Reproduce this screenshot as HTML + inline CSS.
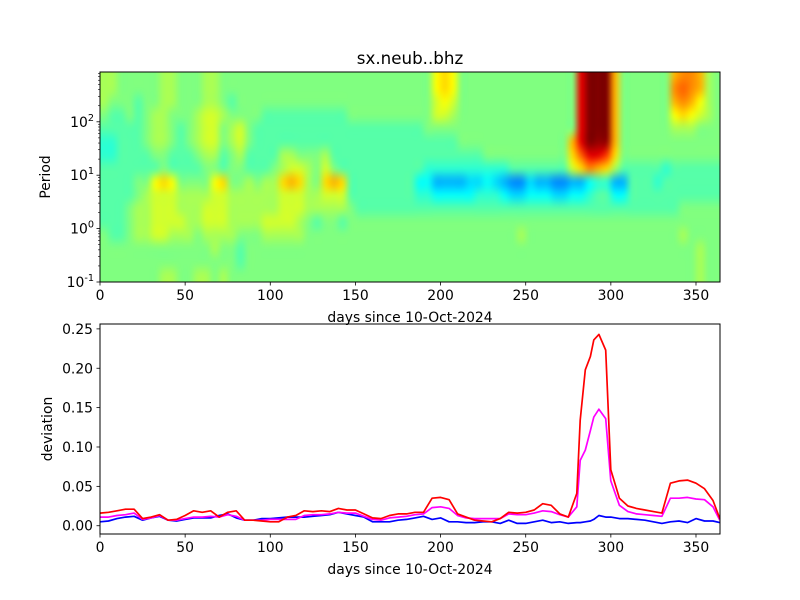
<!DOCTYPE html>
<html><head><meta charset="utf-8">
<style>
html,body{margin:0;padding:0;background:#fff;}
#wrap{position:relative;width:800px;height:600px;overflow:hidden;font-family:"DejaVu Sans","Liberation Sans",sans-serif;}
#hm{position:absolute;left:100px;top:72px;}
#svg{position:absolute;left:0;top:0;}
</style></head>
<body>
<div id="wrap">
<canvas id="hm" width="620" height="210"></canvas>
<svg id="svg" width="800" height="600"></svg>
</div>
<script>
// ---- heatmap data: rows from log10(period)=3 (top) down to -1, 0.25 decade each; columns 5 days each; letter M = 0.5 on jet, step 0.04 per letter
const hmRow0  = "NNMMMMMNNMMMNNMMMMMMMMMMMMMMMMMMMMMMMMMPQPMMMMMMMMMMMMMMWZZZRMMMMMMRSSRNM";
const hmRow1  = "NNMMMMMNNMMMNNMMMMMMMMMMMMMMMMMMMMMMMMMPQPMMMMMMMMMMMMMMWZZZRMMMMMMSTSRNM";
const hmRow2  = "NMMMLMMNNMMMNNMLMMMMMMMMMMMMMMMMMMMMMMMOPOMMMMMMMMMMMMMMWZZZRMMMMMMRSRPNM";
const hmRow3  = "MLLMLMNNMMMNOONMMMMLLLLLLLLLLMMMMMMMMMMOONMMMMMMMMMMMMMMWZZZRMMMMMMPQPONM";
const hmRow4  = "LLLLLMNNMLMNOOMNOMLLLLLLLLLLLLLLLLLLLLMMMMMMMMMMMMMMMMMMWZZZRMMMMMMNNNMMM";
const hmRow5  = "KKLLLMNNMLMNOOMNOMLLLLLLLLLLLLLLLLLLLLLLLLMMMMMMMMMMMMMRWZYYRMMMMMMMMMMMM";
const hmRow6  = "KKLLLLMMLLLMNNLMNLLLLNNMMMNLLLLLLLLLLLLLLLLLLMMMMMMMMMMQTWWUQMMMMMMMMMMMM";
const hmRow7  = "LLLLLLLMLLLLMMLMMLLLMNOONMOMLLLLLLLLLLKKKKKKKKKKLLLLLLLOQSRQNLLLLLKLLLLLL";
const hmRow8  = "LLLLMMPQPMMMMPQMMNMNNQRQNMQRQLLLLLLLLJJHHHHIIJIHGGIHHGGHHJKKHHLLLKLLLLLLL";
const hmRow9  = "LLLLMNOOONNNNOONNNNNNOOONNOOOLLLLLLLLKKJJJJJKKKJIIJJJIIJJKLLJJLLLLLLLLLLL";
const hmRow10 = "LLLMNNOOONNNOOONNNNNNOOONNNNNMLLLLLLLLLLLLLLLLLLLLLLLLLLLLLLLLLLLLLLMMMMM";
const hmRow11 = "LLLMNNOOOONNOOONNNNOOOONMLMMLMMMMMMMMMMMMMMMMMMMMMMMMMMMMMMMMMMMMMMMMMMMM";
const hmRow12 = "MLLMNNOONNNMNNNNMMMNNNNNMMMMMMMMMMMMMMMMMMMMMMMMMNMMMMMMMMMMMMMMMMMMNMMMM";
const hmRow13 = "MMMMMMMMMMMMMNMMLMMMMMMMMMMMMMMMMMMMMMMMMMMMMMMMMMMMMMMMMMMMMMMMMMMMMMNMM";
const hmRow14 = "MMMMMMMMMMMMMMMMLMMMMMMMMMMMMMMMMMMMMMMMMMMMMMMMMMMMMMMMMMMMMMMMMMMMMMNMM";
const hmRow15 = "MMMMMMMNNMMNNMNMMMMMMMMMMMMMMMMMMMMMMMMMMMMMMMMMMMMMMMMMMMMMMMMMMMMMMMNMM";
const hmRows = [hmRow0,hmRow1,hmRow2,hmRow3,hmRow4,hmRow5,hmRow6,hmRow7,hmRow8,hmRow9,hmRow10,hmRow11,hmRow12,hmRow13,hmRow14,hmRow15];
const hmColDays = 5;
const hmLogTop = 3, hmLogBottom = -1;

// ---- deviation line data
const days = [0,5,10,15,20,25,30,35,40,45,50,55,60,65,70,75,80,85,90,95,100,105,110,115,120,125,130,135,140,145,150,155,160,165,170,175,180,185,190,195,200,205,210,215,220,225,230,235,240,245,250,255,260,265,270,275,280,282,285,288,290,293,297,300,305,310,315,320,325,330,335,340,345,350,355,360,364];
const redDev = [.016,.017,.019,.021,.021,.009,.011,.014,.007,.008,
.013,.019,.017,.019,.011,.017,.019,.007,.007,.006,
.005,.005,.011,.013,.019,.018,.019,.018,.022,.020,
.020,.015,.010,.009,.013,.015,.015,.017,.017,.035,
.036,.033,.015,.011,.007,.006,.005,.009,.017,.016,
.017,.020,.028,.026,.015,.011,.041,
.134,.198,.215,.236,.243,.223,.071,
.035,.025,.022,.020,.018,.016,.054,.057,.058,.054,.047,.032,.009];
const magentaDev = [.011,.011,.013,.014,.016,.008,.010,.013,.007,.007,
.009,.011,.011,.012,.011,.014,.012,.007,.007,.007,
.008,.008,.008,.008,.013,.014,.014,.015,.017,.016,
.016,.012,.008,.007,.010,.011,.012,.014,.015,.023,
.024,.022,.013,.010,.009,.009,.009,.009,.015,.014,
.014,.016,.019,.018,.014,.011,.024,
.083,.096,.121,.138,.148,.136,.057,
.026,.018,.015,.014,.013,.012,.035,.035,.036,.034,.033,.024,.007];
const blueDev = [.005,.006,.009,.011,.012,.007,.010,.012,.007,.006,
.008,.010,.010,.010,.013,.015,.010,.007,.007,.009,
.009,.010,.011,.011,.011,.012,.013,.014,.017,.015,
.013,.011,.005,.005,.005,.007,.008,.010,.012,.008,
.010,.005,.005,.004,.004,.005,.005,.003,.007,.003,
.003,.005,.007,.004,.005,.003,.004,
.004,.005,.006,.008,.013,.011,.011,
.009,.009,.008,.007,.005,.003,.005,.006,.004,.009,.006,.006,.004];
const xTicks = [0,50,100,150,200,250,300,350];
const devTicks = [0,0.05,0.10,0.15,0.20,0.25];
const devTickLabels = ["0.00","0.05","0.10","0.15","0.20","0.25"];
const periodTicks = [-1,0,1,2];

// ---- geometry
const AX_L=100, AX_R=720, T_TOP=72, T_BOT=282, B_TOP=324, B_BOT=534;
const XMAX=364.1;
function xs(d){return AX_L+(AX_R-AX_L)*d/XMAX;}
const PER_DEC=53.4;
function yPer(lg){return T_BOT-(lg-(-1))*PER_DEC;}
const DEV_MIN=-0.0105, DEV_MAX=0.2562;
function yDev(v){return B_BOT-(v-DEV_MIN)/(DEV_MAX-DEV_MIN)*(B_BOT-B_TOP);}

function jet(x){
  const c=v=>Math.max(0,Math.min(1,v));
  x=c(x);
  return [c(1.5-Math.abs(4*x-3)),c(1.5-Math.abs(4*x-2)),c(1.5-Math.abs(4*x-1))].map(v=>Math.round(v*255));
}

// heatmap
(function(){
  const nr=hmRows.length, nc=hmRows[0].length;
  const off=document.createElement('canvas'); off.width=nc; off.height=nr;
  const oc=off.getContext('2d'); const img=oc.createImageData(nc,nr);
  for(let r=0;r<nr;r++)for(let c=0;c<nc;c++){
    const ch=hmRows[r].charCodeAt(c)||77;
    const col=jet(0.5+(ch-77)*0.04); const i=(r*nc+c)*4;
    img.data[i]=col[0];img.data[i+1]=col[1];img.data[i+2]=col[2];img.data[i+3]=255;
  }
  oc.putImageData(img,0,0);
  const cv=document.getElementById('hm'); const ctx=cv.getContext('2d');
  ctx.imageSmoothingEnabled=true; ctx.imageSmoothingQuality='high';
  const x0=xs(0)-AX_L, x1=xs(nc*hmColDays)-AX_L;
  const y0=yPer(hmLogTop)-T_TOP, y1=yPer(hmLogBottom)-T_TOP;
  ctx.drawImage(off,x0,y0,x1-x0,y1-y0);
})();

const NS='http://www.w3.org/2000/svg';
const svg=document.getElementById('svg');
function mk(tag,attrs,parent){const e=document.createElementNS(NS,tag);for(const k in attrs)e.setAttribute(k,attrs[k]);(parent||svg).appendChild(e);return e;}

// lines
function line(vals,color,name){
  let d='';
  for(let i=0;i<days.length;i++){d+=(i?'L':'M')+xs(days[i]).toFixed(1)+','+yDev(vals[i]).toFixed(1);}
  const p=mk('path',{d:d,fill:'none',stroke:color,'stroke-width':1.7,'stroke-linejoin':'round'});
  
  
}
line(blueDev,'#0000ff','blue-deviation-line');
line(magentaDev,'#ff00ff','magenta-deviation-line');
line(redDev,'#ff0000','red-deviation-line');

// frames
const f1=mk('rect',{x:AX_L,y:T_TOP,width:AX_R-AX_L,height:T_BOT-T_TOP,fill:'none',stroke:'#000','stroke-width':1});


const f2=mk('rect',{x:AX_L,y:B_TOP,width:AX_R-AX_L,height:B_BOT-B_TOP,fill:'none',stroke:'#000','stroke-width':1});



function txt(s,x,y,anchor,size,name){
  const t=mk('text',{x:x,y:y,'text-anchor':anchor,'font-size':size,'font-family':'DejaVu Sans, Liberation Sans, sans-serif',fill:'#000'});
  t.textContent=s;
  
  
  return t;
}
// x ticks both axes
for(const d of xTicks){
  const x=xs(d);
  mk('line',{x1:x,x2:x,y1:T_BOT,y2:T_BOT+3.5,stroke:'#000','stroke-width':0.8});
  mk('line',{x1:x,x2:x,y1:B_BOT,y2:B_BOT+3.5,stroke:'#000','stroke-width':0.8});
  txt(String(d),x,T_BOT+18,'middle',13.9,'top-x-tick-label');
  txt(String(d),x,B_BOT+18,'middle',13.9,'bottom-x-tick-label');
}
// period ticks (log)
for(const lg of periodTicks){
  const y=yPer(lg);
  mk('line',{x1:AX_L-3.5,x2:AX_L,y1:y,y2:y,stroke:'#000','stroke-width':0.8});
  const t=txt('10',AX_L-6,y+5,'end',13.9,'period-tick-label');
  const s=mk('tspan',{dy:-6,'font-size':9.7},t); s.textContent=String(lg);
}
for(let lg=-1;lg<3;lg++){
  for(let m=2;m<=9;m++){
    const y=yPer(lg+Math.log10(m));
    if(y<T_TOP)continue;
    mk('line',{x1:AX_L-2,x2:AX_L,y1:y,y2:y,stroke:'#000','stroke-width':0.6});
  }
}
// dev ticks
for(let i=0;i<devTicks.length;i++){
  const y=yDev(devTicks[i]);
  mk('line',{x1:AX_L-3.5,x2:AX_L,y1:y,y2:y,stroke:'#000','stroke-width':0.8});
  txt(devTickLabels[i],AX_L-7,y+5,'end',13.9,'deviation-tick-label');
}
txt('sx.neub..bhz',410,64,'middle',16.7,'chart-title');
txt('days since 10-Oct-2024',410,322,'middle',13.9,'top-x-axis-title');
txt('days since 10-Oct-2024',410,574,'middle',13.9,'bottom-x-axis-title');
const yl1=txt('Period',0,0,'middle',13.9,'top-y-axis-title');
yl1.setAttribute('transform','translate(50,177) rotate(-90)');
const yl2=txt('deviation',0,0,'middle',13.9,'bottom-y-axis-title');
yl2.setAttribute('transform','translate(52,429) rotate(-90)');
</script>
</body></html>
